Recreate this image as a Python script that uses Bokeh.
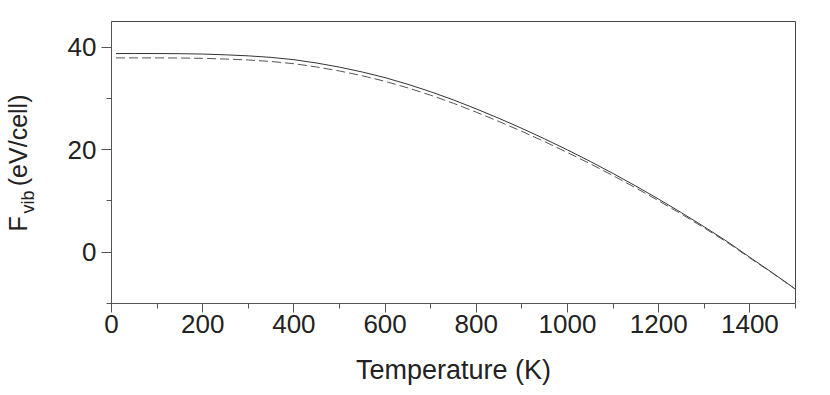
from bokeh.plotting import figure
from bokeh.models import Range1d, SingleIntervalTicker, Label
from bokeh.embed import file_html
from bokeh.resources import INLINE

# Temperature (K)
temperature = [10, 50, 100, 150, 200, 250, 300, 350, 400, 450, 500, 550, 600, 650,
               700, 750, 800, 850, 900, 950, 1000, 1050, 1100, 1150, 1200, 1250,
               1300, 1350, 1400, 1450, 1500]
# F_vib, solid curve (eV/cell)
f_solid = [38.75, 38.75, 38.75, 38.72, 38.65, 38.5, 38.3, 38.0, 37.55, 36.9, 36.1,
           35.15, 34.05, 32.75, 31.3, 29.7, 27.95, 26.1, 24.15, 22.1, 19.95, 17.7,
           15.35, 12.9, 10.35, 7.7, 4.95, 2.1, -1.0, -4.05, -7.2]
# F_vib, dashed curve (eV/cell)
f_dashed = [37.9, 37.9, 37.9, 37.88, 37.82, 37.68, 37.5, 37.2, 36.77, 36.13, 35.35,
            34.42, 33.33, 32.05, 30.62, 29.04, 27.31, 25.49, 23.57, 21.56, 19.45,
            17.24, 14.93, 12.53, 10.03, 7.43, 4.73, 1.93, -1.12, -4.12, -7.22]

FONT = "Liberation Sans"
TXT = "#222222"
AX = "#555555"

p = figure(width=822, height=395, output_backend="svg", toolbar_location=None,
           x_range=Range1d(0, 1500), y_range=Range1d(-10, 45),
           min_border_left=111, min_border_right=27, min_border_top=21,
           min_border_bottom=92)

p.xgrid.visible = False
p.ygrid.visible = False
p.outline_line_color = "#444444"
p.outline_line_width = 1
p.background_fill_color = "white"
p.border_fill_color = "white"

p.line(temperature, f_solid, line_color="#333333", line_width=1)
p.line(temperature, f_dashed, line_color="#555555", line_width=1, line_dash="9 4")

xa = p.xaxis[0]
xa.ticker = SingleIntervalTicker(interval=200, num_minor_ticks=2)
xa.axis_label = "Temperature (K)"
xa.axis_label_text_font = FONT
xa.axis_label_text_font_size = "27px"
xa.axis_label_text_font_style = "normal"
xa.axis_label_text_color = TXT
xa.axis_label_standoff = 19
xa.major_label_text_font = FONT
xa.major_label_text_font_size = "26px"
xa.major_label_text_color = TXT
xa.major_label_standoff = 2
xa.major_tick_in = 0
xa.major_tick_out = 9
xa.minor_tick_in = 0
xa.minor_tick_out = 5
xa.axis_line_color = AX
xa.major_tick_line_color = AX
xa.minor_tick_line_color = AX

ya = p.yaxis[0]
ya.ticker = SingleIntervalTicker(interval=20, num_minor_ticks=2)
ya.major_label_text_font = FONT
ya.major_label_text_font_size = "26px"
ya.major_label_text_color = TXT
ya.major_label_standoff = 5
ya.major_tick_in = 0
ya.major_tick_out = 10
ya.minor_tick_in = 0
ya.minor_tick_out = 5
ya.axis_line_color = AX
ya.major_tick_line_color = AX
ya.minor_tick_line_color = AX

# y-axis title: F_vib(eV/cell), rotated, placed in the left panel (canvas units);
# the gap after "F" leaves room for the subscript "vib"
GAP = "\u2002\u2002\u2009"
for txt, cx, cy, size in [("F" + GAP + "(eV/cell)", 17, 231, "25px"),
                          ("vib", 27, 213, "18px")]:
    p.add_layout(Label(x=cx, y=cy, x_units="canvas", y_units="canvas", text=txt,
                       angle=90, angle_units="deg", text_font=FONT,
                       text_font_size=size, text_color=TXT,
                       text_align="left", text_baseline="alphabetic"), "left")

open("out.html", "w").write(file_html(p, INLINE))
